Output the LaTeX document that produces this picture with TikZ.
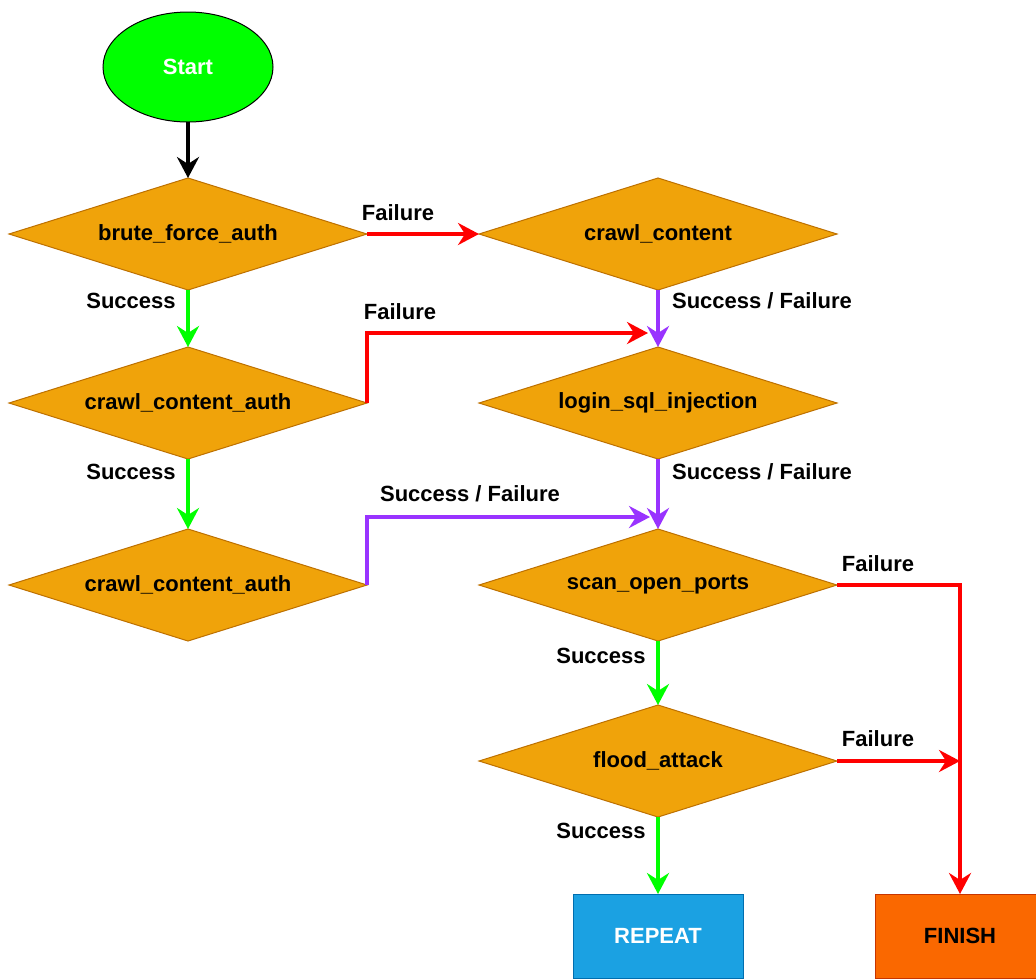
\documentclass[tikz,border=0pt]{standalone}
\usepackage{fontspec}
\setmainfont{Liberation Sans}
\usetikzlibrary{shapes.geometric,arrows.meta}

\definecolor{decfill}{HTML}{F0A30A}
\definecolor{decline}{HTML}{BD7000}
\definecolor{startfill}{HTML}{00FF00}
\definecolor{repfill}{HTML}{1BA1E2}
\definecolor{repline}{HTML}{006EAF}
\definecolor{finfill}{HTML}{FA6800}
\definecolor{finline}{HTML}{C73500}
\definecolor{okline}{HTML}{00FF00}
\definecolor{failline}{HTML}{FF0000}
\definecolor{anyline}{HTML}{9933FF}

\tikzset{
  txt/.style={font=\bfseries\fontsize{22}{26}\selectfont},
  decision/.style={diamond, aspect=3, inner sep=0pt, outer sep=0pt,
    minimum width=358pt, minimum height=112pt,
    fill=decfill, draw=decline, line width=1pt, txt},
  startnode/.style={ellipse, inner sep=0pt, outer sep=0pt,
    minimum width=170pt, minimum height=110pt,
    fill=startfill, draw=black, line width=1pt, txt, text=white},
  endbox/.style={rectangle, inner sep=0pt, outer sep=0pt,
    minimum width=170pt, minimum height=84pt, line width=1pt, txt},
  lbl/.style={txt, inner sep=0pt},
  conn/.style={line width=3.5pt, line join=miter,
    -{Stealth[length=21pt, width=22pt, inset=7pt]}},
  blkarr/.style={conn, draw=black},
  okarr/.style={conn, draw=okline},
  failarr/.style={conn, draw=failline},
  anyarr/.style={conn, draw=anyline}
}

\begin{document}
\begin{tikzpicture}[x=1pt, y=-1pt]
\useasboundingbox (0,0) rectangle (1036,978);

% start and decisions
\node[startnode] (start) at (188,67) {Start};
\node[decision] (brute) at (188,234) {brute\_force\_auth};
\node[decision] (crawl) at (658,234) {crawl\_content};
\node[decision] (cca1) at (188,403) {crawl\_content\_auth};
\node[decision] (login) at (658,403) {login\_sql\_injection};
\node[decision] (cca2) at (188,585) {crawl\_content\_auth};
\node[decision] (scan) at (658,585) {scan\_open\_ports};
\node[decision] (flood) at (658,761) {flood\_attack};

% terminal boxes
\node[endbox, fill=repfill, draw=repline, text=white] (repeat) at (658,936) {REPEAT};
\node[endbox, fill=finfill, draw=finline, text=black] (finish) at (960,936) {FINISH};

% free ends of connectors that join others
\coordinate (j1) at (648,333);
\coordinate (j2) at (650,517);
\coordinate (j3) at (960,761);

% connectors
\draw[blkarr] (start.south) -- (brute.north);
\draw[failarr] (brute.east) -- (crawl.west);
\draw[okarr] (brute.south) -- (cca1.north);
\draw[anyarr] (crawl.south) -- (login.north);
\draw[failarr] (cca1.east) |- (j1);
\draw[okarr] (cca1.south) -- (cca2.north);
\draw[anyarr] (login.south) -- (scan.north);
\draw[anyarr] (cca2.east) |- (j2);
\draw[failarr] (scan.east) -| (finish.north);
\draw[okarr] (scan.south) -- (flood.north);
\draw[failarr] (flood.east) -- (j3);
\draw[okarr] (flood.south) -- (repeat.north);

% connector labels
\node[lbl] (l1) at (398,213) {Failure};
\node[lbl] (l2) at (131,301) {Success};
\node[lbl] (l3) at (762,301) {Success / Failure};
\node[lbl] (l4) at (400,312) {Failure};
\node[lbl] (l5) at (131,472) {Success};
\node[lbl] (l6) at (762,472) {Success / Failure};
\node[lbl] (l7) at (470,494) {Success / Failure};
\node[lbl] (l8) at (878,564) {Failure};
\node[lbl] (l9) at (601,656) {Success};
\node[lbl] (l10) at (878,739) {Failure};
\node[lbl] (l11) at (601,831) {Success};
\end{tikzpicture}
\end{document}
